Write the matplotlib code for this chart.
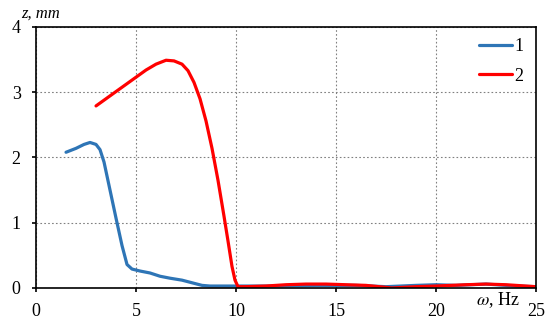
import matplotlib
matplotlib.use("Agg")
import matplotlib.pyplot as plt

plt.rcParams["font.family"] = ["Liberation Serif", "DejaVu Serif"]
plt.rcParams["mathtext.fontset"] = "stix"

# curve 1 (blue)
omega_1 = [1.5, 2.0, 2.4, 2.7, 3.0, 3.2, 3.4, 3.7, 4.0, 4.3, 4.55, 4.8, 5.2, 5.7, 6.2, 6.7,
           7.3, 7.8, 8.3, 8.7, 9.5, 10.5, 12.0, 14.0, 16.0, 17.5, 19.0, 20.0, 21.0, 22.5, 24.0, 25.0]
z_1 = [2.08, 2.14, 2.2, 2.23, 2.2, 2.12, 1.93, 1.5, 1.07, 0.65, 0.36, 0.29, 0.26, 0.23, 0.18, 0.15,
       0.12, 0.08, 0.04, 0.03, 0.03, 0.03, 0.03, 0.04, 0.04, 0.02, 0.04, 0.05, 0.04, 0.06, 0.03, 0.02]

# curve 2 (red)
omega_2 = [3.0, 3.5, 4.0, 4.5, 5.0, 5.5, 6.0, 6.5, 6.9, 7.3, 7.6, 7.9, 8.2, 8.5, 8.8, 9.1, 9.4,
           9.6, 9.8, 9.95, 10.1, 10.5, 11.5, 12.5, 13.5, 14.5, 15.5, 16.5, 17.8, 19.0, 20.0, 21.5,
           22.5, 23.5, 25.0]
z_2 = [2.79, 2.9, 3.01, 3.12, 3.23, 3.34, 3.43, 3.49, 3.48, 3.43, 3.33, 3.15, 2.9, 2.56, 2.14, 1.65,
       1.1, 0.72, 0.33, 0.12, 0.02, 0.02, 0.03, 0.05, 0.06, 0.06, 0.05, 0.04, 0.0, 0.02, 0.03, 0.05,
       0.06, 0.05, 0.02]

x_ticks = [0, 5, 10, 15, 20, 25]
y_ticks = [0, 1, 2, 3, 4]

fig = plt.figure(figsize=(5.5, 3.3), dpi=100)
ax = fig.add_axes([0.0655, 0.1273, 0.909, 0.791])

ax.plot(omega_1, z_1, color="#2E75B6", linewidth=2.3, label="1", solid_capstyle="round")
ax.plot(omega_2, z_2, color="#FF0000", linewidth=2.3, label="2", solid_capstyle="round")

ax.set_xlim(0, 25)
ax.set_ylim(0, 4)
ax.set_xticks(x_ticks)
ax.set_yticks(y_ticks)
ax.grid(True, color="#808080", linestyle=(0, (1.5, 2)), linewidth=0.8)
ax.tick_params(axis="both", labelsize=13, length=3, width=1.2, direction="out",
               color="black", pad=8)
for spine in ax.spines.values():
    spine.set_linewidth(1.2)
    spine.set_color("black")

ax.text(-0.75, 4.2, "z, mm", style="italic", fontsize=12, ha="left", va="center",
        clip_on=False)
ax.text(24.2, -0.19, r"$\omega$, Hz", fontsize=13, ha="right", va="center",
        clip_on=False)

ax.legend(loc="upper right", bbox_to_anchor=(1.01, 1.023), frameon=False, fontsize=13,
          handlelength=1.85, handletextpad=0.15, labelspacing=0.7, borderaxespad=0.55)

fig.savefig("out.png", dpi=100)
